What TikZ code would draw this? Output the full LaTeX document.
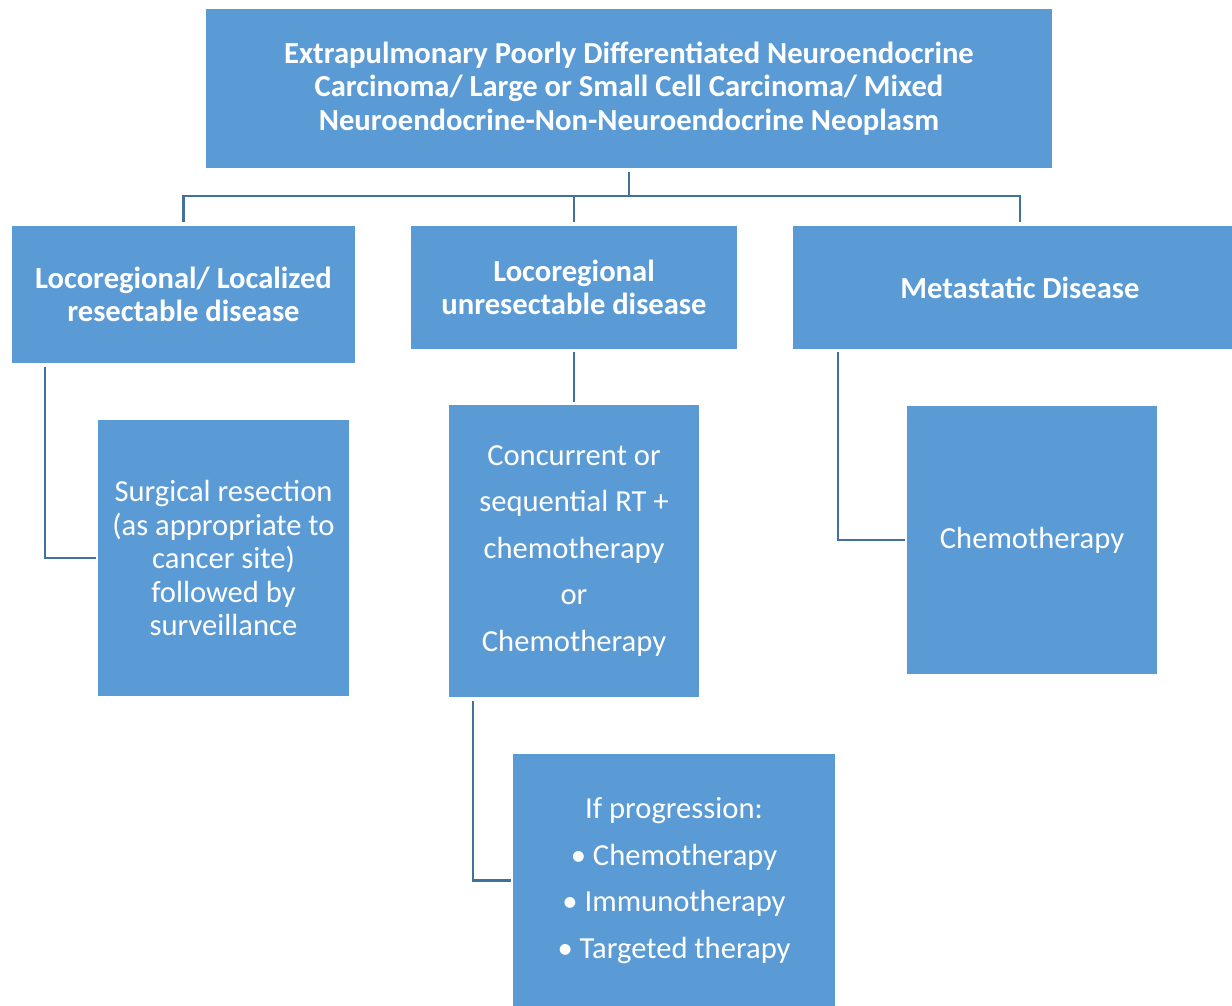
\documentclass[tikz,border=0pt]{standalone}
\usepackage{fontspec}
\setmainfont{Carlito}
\usetikzlibrary{positioning}
\definecolor{boxblue}{HTML}{5B9BD5}
\definecolor{linkblue}{HTML}{41719C}
\tikzset{
  box/.style={
      rectangle,
      inner sep=0pt,
      fill=boxblue,
      text=white,
      align=center,
      font=\fontsize{30.6}{33.5}\selectfont
  },
  head/.style={
      box,
      font=\bfseries\fontsize{30.6}{33.5}\selectfont
  },
  link/.style={
      draw=linkblue,
      line width=2.5pt
  }
}

\begin{document}
\begin{tikzpicture}[x=1pt,y=-1pt]
    \useasboundingbox[fill=white] (0,0) rectangle (1232,1005);
    % first level
    \node[head,minimum width=846pt,minimum height=159pt] (top) at (629,88.5)
      {Extrapulmonary Poorly Differentiated Neuroendocrine\\
       Carcinoma/ Large or Small Cell Carcinoma/ Mixed\\
       Neuroendocrine-Non-Neuroendocrine Neoplasm};
    % second level
    \node[head,minimum width=343pt,minimum height=137pt] (resect) at (183.5,294.5)
      {Locoregional/ Localized\\ resectable disease};
    \node[head,minimum width=326pt,minimum height=123pt] (unresect) at (574,287.5)
      {Locoregional\\ unresectable disease};
    \node[head,minimum width=454pt,minimum height=123pt] (metastatic) at (1020,287.5)
      {Metastatic Disease};
    % treatments
    \node[box,minimum width=251pt,minimum height=276pt] (surgery) at (223.5,558)
      {Surgical resection\\ (as appropriate to\\ cancer site)\\ followed by\\ surveillance};
    \node[box,minimum width=250pt,minimum height=292pt,
          font=\fontsize{30.6}{46.5}\selectfont] (concurrent) at (574,551)
      {Concurrent or\\ sequential RT +\\ chemotherapy\\ or\\ Chemotherapy};
    \node[box,minimum width=250pt,minimum height=268pt] (chemo) at (1032,540)
      {Chemotherapy};
    \node[box,minimum width=322pt,minimum height=253pt,
          font=\fontsize{30.6}{46.5}\selectfont] (progress) at (674,880.5)
      {If progression:\\ • Chemotherapy\\ • Immunotherapy\\ • Targeted therapy};
    % connectors
    \coordinate (split) at (629,196);
    \draw[link,shorten <=4pt] (top) -- (split);
    \draw[link,shorten >=4pt] (split) -| (resect);
    \draw[link,shorten >=4pt] (split) -| (unresect);
    \draw[link,shorten >=4pt] (split) -| (metastatic);
    \draw[link,shorten <=4pt,shorten >=2pt] ([xshift=33pt]resect.south west) |- (surgery);
    \draw[link,shorten <=3pt,shorten >=3pt] (unresect) -- (concurrent);
    \draw[link,shorten <=3pt,shorten >=2pt] ([xshift=45pt]metastatic.south west) |- (chemo);
    \draw[link,shorten <=4pt,shorten >=2pt] ([xshift=24pt]concurrent.south west) |- (progress);
\end{tikzpicture}
\end{document}
